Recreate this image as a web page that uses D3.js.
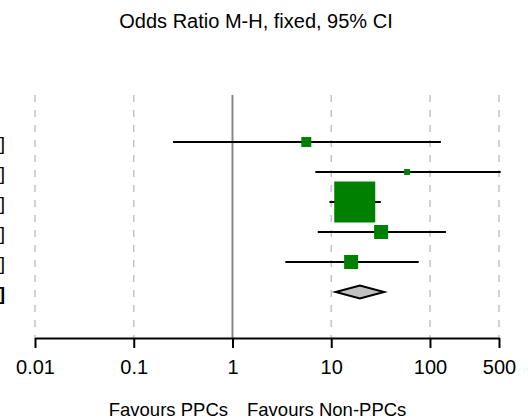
<!DOCTYPE html>
<html>
<head>
<meta charset="utf-8">
<script src="https://cdn.jsdelivr.net/npm/d3@7"></script>
<style>
  body { margin: 0; background: #fff; }
  svg { display: block; font-family: "Liberation Sans", Arial, sans-serif; }
</style>
</head>
<body>
<div id="chart"></div>
<script>
// study estimates (odds ratio, 95% CI) and weights in %
const oddsRatio = [5.59, 58.6, 17.3, 32.0, 15.9];
const ciLow = [0.25, 6.9, 9.6, 7.3, 3.43];
const ciHigh = [129, 520, 31.8, 145, 76.9];
const weights = [4.5, 1.6, 76.1, 8.9, 8.9];
// pooled estimate
const totalOR = 19.5;
const totalLow = 11.1;
const totalHigh = 34.3;

const tickValues = [0.01, 0.1, 1, 10, 100, 500];
const tickLabels = ["0.01", "0.1", "1", "10", "100", "500"];
const title = "Odds Ratio M-H, fixed, 95% CI";
const leftLabel = "Favours PPCs";
const rightLabel = "Favours Non-PPCs";

const width = 528, height = 419;
const svg = d3.select("#chart").append("svg")
  .attr("width", width)
  .attr("height", height);

const x = d3.scaleLog()
  .domain([0.01, 500])
  .range([35, 499]);

const nRows = oddsRatio.length + 1;
const y = d3.scalePoint()
  .domain(d3.range(nRows))
  .range([142, 292]);

const plotTop = 95, axisY = 338;

// title
svg.append("text")
  .attr("x", 256)
  .attr("y", 28)
  .attr("text-anchor", "middle")
  .style("font-size", "20px")
  .text(title);

// dashed grid lines
svg.append("g").selectAll("line")
  .data(tickValues.filter(d => d !== 1))
  .join("line")
  .attr("x1", d => x(d)).attr("x2", d => x(d))
  .attr("y1", plotTop).attr("y2", axisY)
  .attr("stroke", "#c4c4c4")
  .attr("stroke-width", 1.5)
  .attr("stroke-dasharray", "7,8");

// line of no effect
svg.append("line")
  .attr("x1", x(1)).attr("x2", x(1))
  .attr("y1", plotTop).attr("y2", axisY)
  .attr("stroke", "#888")
  .attr("stroke-width", 2);

// left labels (mostly outside the view, like the original)
const fmt = d3.format(".2f");
const rows = oddsRatio.map((d, i) => ({
  or: d, lo: ciLow[i], hi: ciHigh[i], w: weights[i], i
}));
svg.append("g").selectAll("text")
  .data(rows.concat([{ or: totalOR, lo: totalLow, hi: totalHigh, i: nRows - 1, total: true }]))
  .join("text")
  .attr("x", 5)
  .attr("y", d => y(d.i) + 8)
  .attr("text-anchor", "end")
  .style("font-size", "19px")
  .style("font-weight", d => d.total ? "bold" : "normal")
  .text(d => `${fmt(d.or)} [${fmt(d.lo)}, ${fmt(d.hi)}]`);

// confidence intervals
svg.append("g").selectAll("line")
  .data(rows)
  .join("line")
  .attr("x1", d => x(d.lo))
  .attr("x2", d => Math.min(x(d.hi), width))
  .attr("y1", d => y(d.i)).attr("y2", d => y(d.i))
  .attr("stroke", "#000")
  .attr("stroke-width", 2);

// weighted squares
const size = d3.scaleSqrt().domain([0, 76.1]).range([0, 41]);
svg.append("g").selectAll("rect")
  .data(rows)
  .join("rect")
  .attr("x", d => x(d.or) - size(d.w) / 2)
  .attr("y", d => y(d.i) - size(d.w) / 2)
  .attr("width", d => size(d.w))
  .attr("height", d => size(d.w))
  .attr("fill", "#008000");

// pooled diamond
const ty = y(nRows - 1);
svg.append("path")
  .attr("d", `M${x(totalLow)},${ty} L${x(totalOR)},${ty - 6.5} L${x(totalHigh)},${ty} L${x(totalOR)},${ty + 6.5} Z`)
  .attr("fill", "#c0c0c0")
  .attr("stroke", "#000")
  .attr("stroke-width", 2);

// x axis
const axis = svg.append("g")
  .attr("transform", `translate(0,${axisY})`)
  .call(d3.axisBottom(x)
    .tickValues(tickValues)
    .tickFormat((d, i) => tickLabels[i])
    .tickSize(10)
    .tickSizeOuter(0)
    .tickPadding(12));
axis.select(".domain").attr("stroke", "#000").attr("stroke-width", 2);
axis.selectAll(".tick line").attr("stroke", "#000").attr("stroke-width", 2);
axis.selectAll(".tick text")
  .attr("fill", "#000")
  .style("font-size", "20px")
  .style("font-family", "'Liberation Sans', Arial, sans-serif");

// favours labels
svg.append("text")
  .attr("x", 228).attr("y", 416)
  .attr("text-anchor", "end")
  .style("font-size", "18.5px")
  .text(leftLabel);
svg.append("text")
  .attr("x", 247).attr("y", 416)
  .attr("text-anchor", "start")
  .style("font-size", "18.5px")
  .text(rightLabel);
</script>
</body>
</html>
